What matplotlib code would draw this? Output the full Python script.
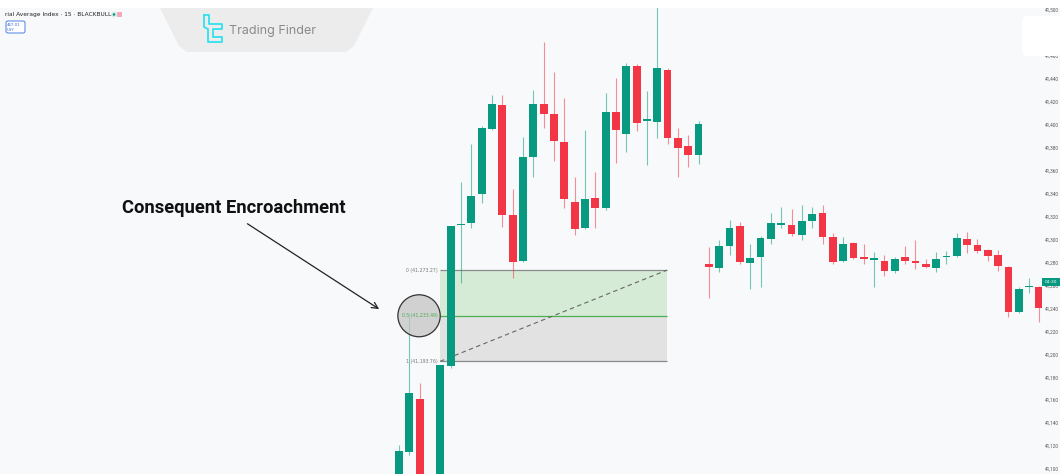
import numpy as np
import matplotlib.pyplot as plt
from matplotlib.patches import Rectangle, Ellipse, Polygon, FancyBboxPatch

# 15m candles, left to right (index 3 is below the visible range)
opens = [41080, 41115, 41161, np.nan, 41060, 41190, 41312.5, 41314, 41339.5, 41396,
         41417, 41321, 41281, 41372, 41418, 41409, 41385, 41333, 41310, 41336,
         41327, 41411, 41392, 41451, 41403.3, 41402, 41448, 41388, 41381.5, 41374,
         41278.5, 41275, 41294, 41312, 41279.5, 41284.5, 41300.5, 41313, 41312.5, 41304,
         41316, 41323, 41302, 41281, 41297, 41284.5, 41282.5, 41281.5, 41272.5, 41284.5,
         41280.5, 41278.5, 41275, 41284.5, 41285.5, 41300.5, 41295, 41291, 41286.5, 41276,
         41237, 41258.3, 41258.5]
highs = [41121, 41236, 41175, np.nan, 41191, 41312, 41350, 41383, 41399, 41426,
         41426, 41344, 41389, 41430, 41472, 41446, 41423, 41354, 41395, 41359,
         41428, 41441, 41454, 41453, 41429, 41510, 41449, 41397, 41391, 41403,
         41293.5, 41299.5, 41317, 41315, 41296, 41303, 41323, 41328, 41326.5, 41330,
         41328, 41330, 41306, 41302, 41298, 41296, 41289, 41286.5, 41285, 41294.5,
         41299.5, 41283, 41289, 41290, 41305.5, 41306.5, 41300.5, 41292, 41291, 41277,
         41258.5, 41266.5, 41259]
lows = [41070, 41112, 41060, np.nan, 41050, 41188, 41262, 41310, 41332, 41395,
        41311, 41266, 41280, 41354, 41397, 41368, 41327, 41304, 41309, 41310,
        41326, 41367, 41376, 41394.5, 41365, 41388, 41383, 41354, 41363, 41366,
        41249, 41271.5, 41286.5, 41279, 41257, 41258.5, 41296, 41310, 41303, 41299.5,
        41310, 41296, 41278.5, 41280, 41283, 41278.5, 41258.5, 41268, 41271, 41278.5,
        41274.5, 41275, 41271.5, 41278.5, 41285, 41288, 41288, 41281.5, 41272.5, 41232.5,
        41236, 41253.5, 41228]
closes = [41116, 41166, 41070, np.nan, 41191, 41312, 41313.3, 41338, 41397, 41418,
          41321, 41280, 41372, 41418, 41409, 41386, 41335, 41309, 41335, 41327,
          41411, 41395, 41451, 41401.5, 41403.8, 41449, 41388, 41380, 41373.5, 41401,
          41276, 41294, 41310, 41280.5, 41284, 41301, 41314.5, 41314, 41305, 41316,
          41322, 41302, 41280.5, 41296, 41284, 41283, 41283.3, 41272.5, 41283, 41281.5,
          41279.5, 41276, 41283, 41285.5, 41301.5, 41295, 41290, 41285.5, 41277, 41237,
          41257, 41258.8, 41240.5]

# fibonacci tool drawn on the chart
fib_prices = [41273.27, 41233.49, 41193.76]
fib_labels = ["0 (41,273.27)", "0.5 (41,233.49)", "1 (41,193.76)"]
fib_start, fib_end = 3.97, 25.94

price_ticks = list(range(41100, 41520, 20))

UP = "#089981"
DOWN = "#f23645"
BG = "#f8f9fa"

fig = plt.figure(figsize=(10.6, 4.74), dpi=100)
fig.patch.set_facecolor(BG)
ax = fig.add_axes([0, 0, 1042 / 1060, 466 / 474])
ax.set_facecolor(BG)

o = np.array(opens)
h = np.array(highs)
l = np.array(lows)
c = np.array(closes)
x = np.arange(len(o))
col = np.where(c >= o, UP, DOWN)
body_lo = np.minimum(o, c)
body_h = np.maximum(np.abs(c - o), 1.3)

# fib box, under the candles
ax.add_patch(Rectangle((fib_start, fib_prices[1]), fib_end - fib_start,
                       fib_prices[0] - fib_prices[1], color="#d6ebd6", zorder=1, lw=0))
ax.add_patch(Rectangle((fib_start, fib_prices[2]), fib_end - fib_start,
                       fib_prices[1] - fib_prices[2], color="#e2e2e2", zorder=1, lw=0))
line_cols = ["#8a8a8a", "#4caf50", "#8a8a8a"]
for p, lab, lc in zip(fib_prices, fib_labels, line_cols):
    ax.hlines(p, fib_start, fib_end, color=lc, lw=0.9, zorder=2)
    ax.text(fib_start - 0.25, p, lab, ha="right", va="center", fontsize=3.3,
            color=lc if lc != "#8a8a8a" else "#777777", zorder=6)
ax.plot([fib_start, fib_end], [fib_prices[2], fib_prices[0]], ls=(0, (4, 3)),
        color="#666666", lw=0.8, zorder=2)

ok = ~np.isnan(o)
ax.vlines(x[ok], l[ok], h[ok], colors=col[ok], lw=0.8, alpha=0.55, zorder=3)
ax.bar(x[ok], body_h[ok], bottom=body_lo[ok], width=0.76, color=col[ok], zorder=4)

# circle at the 0.5 level
ax.add_patch(Ellipse((1.94, fib_prices[1]), 4.1, 36.6, facecolor="#c4c4c4", alpha=0.75,
                     edgecolor="none", zorder=5))
ax.add_patch(Ellipse((1.94, fib_prices[1]), 4.1, 36.6, facecolor="none",
                     edgecolor="#333333", lw=0.9, zorder=5))

ax.text(-26.8, 41327.5, "Consequent Encroachment", fontsize=13.2, fontweight="bold",
        family="Roboto", ha="left", va="center", color="#111111")
ax.annotate("", xy=(-1.7, 41238), xytext=(-14.9, 41315),
            arrowprops=dict(arrowstyle="->", color="#222222", lw=0.9, mutation_scale=11))

ax.set_xlim(-38.63, 62.25)
ax.set_ylim(41095.6, 41501.7)
ax.set_xticks([])
ax.yaxis.tick_right()
ax.set_yticks(price_ticks)
ax.set_yticklabels([f"{v:,}" for v in price_ticks], family="Roboto")
ax.tick_params(axis="y", length=0, pad=2, labelsize=3.4, labelcolor="#555555")
for s in ax.spines.values():
    s.set_visible(False)

# overlay in pixel units for the screen decorations
ov = fig.add_axes([0, 0, 1, 1], zorder=10)
ov.set_xlim(0, 1060)
ov.set_ylim(474, 0)
ov.axis("off")
ov.patch.set_visible(False)
ov.add_patch(Rectangle((0, 0), 1060, 8, color="white", lw=0))
ov.add_patch(Polygon([(160, 8), (373, 8), (354, 46), (346, 52), (187, 52), (179, 46)],
                     closed=True, color="#ececec", lw=0))
ov.plot([204, 209, 209, 222, 222, 213, 213, 222, 222, 208, 208, 204, 204],
        [15, 15, 24, 24, 29, 29, 37, 37, 42, 42, 29, 27, 15], color="#2fe0ef", lw=1.3)
ov.text(229, 31, "Trading Finder", fontsize=9, color="#8a8a8a", va="center", ha="left",
        family="Inter")
ov.add_patch(FancyBboxPatch((1022, 16), 40, 40, boxstyle="round,pad=0,rounding_size=6",
                            color="white", lw=0))
ov.text(5, 14.5, "rial Average Index · 15 · BLACKBULL", fontsize=4.2, color="#222222",
        va="center", ha="left")
ov.add_patch(Ellipse((114, 14.5), 6, 6, color="#d6efe9", lw=0))
ov.add_patch(Ellipse((114, 14.5), 2.6, 2.6, color=UP, lw=0))
ov.add_patch(FancyBboxPatch((117, 12), 5, 5, boxstyle="round,pad=0,rounding_size=1",
                            color="#f7a8b8", lw=0))
ov.add_patch(FancyBboxPatch((6, 21), 19, 12, boxstyle="round,pad=0,rounding_size=2",
                            facecolor="white", edgecolor="#4a7fe0", lw=0.7))
ov.text(7, 25, "467.01", fontsize=2.8, color="#2f66d8", va="center", ha="left")
ov.text(7, 30, "USY", fontsize=2.8, color="#2f66d8", va="center", ha="left")
ov.add_patch(Rectangle((1042, 278), 18, 8, color=UP, lw=0))
ov.text(1045, 282, "04:30", fontsize=3.2, color="white", va="center", ha="left")

fig.savefig("out.png", dpi=100, facecolor=fig.get_facecolor())
